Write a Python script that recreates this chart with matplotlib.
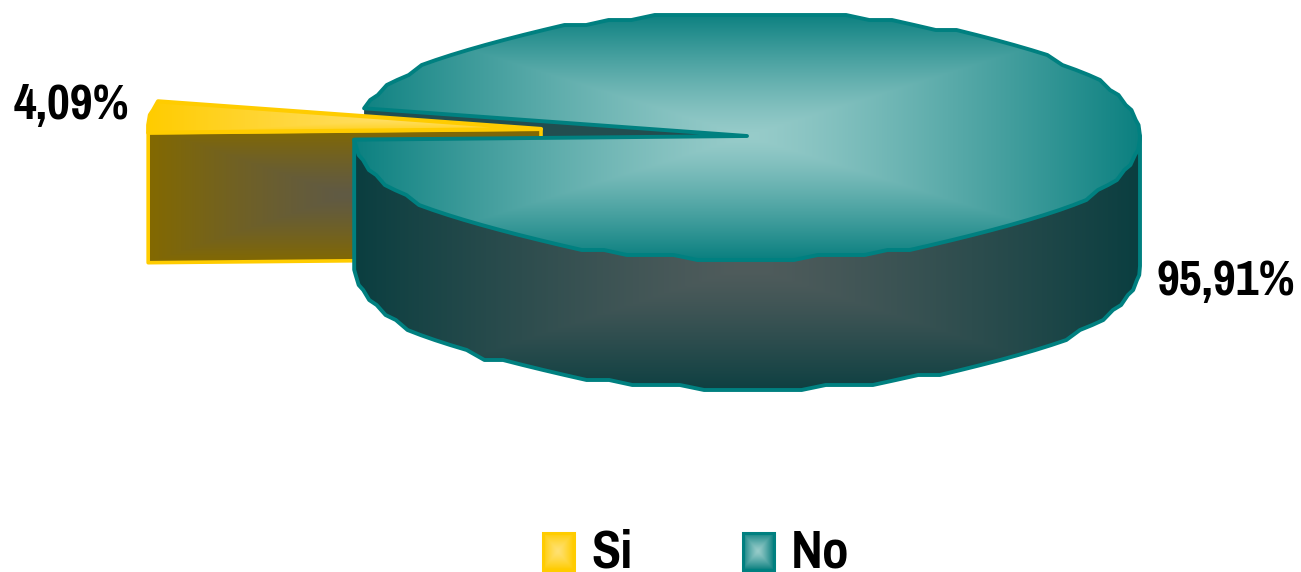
import numpy as np
from matplotlib import pyplot as plt
from matplotlib.patches import Polygon, Rectangle

labels = ["Si", "No"]
shares = [4.09, 95.91]
pct_labels = ["4,09%", "95,91%"]

# look of the 3d pie, in pixels of the 1301x572 picture
cx, cy = 747, 136
rx, ry = 393, 123
depth = 130
si_cx, si_cy = 541, 129
start = 167

no_light, no_dark, no_edge = "#98CCCA", "#0B8080", "#008080"
no_wall_light, no_wall_dark = "#505C5C", "#0A3E40"
si_light, si_dark, si_edge = "#FFE173", "#FFCC00", "#FFCC00"
si_wall_light, si_wall_dark = "#605A44", "#836900"
cut_color = "#224E50"
font = ["Pragati Narrow", "Liberation Sans"]


def to_rgb(c):
    return np.array(plt.matplotlib.colors.to_rgb(c))


def box_fill(ax, patch, box, center, inner, outer, z):
    # rectangular "path" gradient, clipped on the patch
    x0, y0, x1, y1 = box
    xx, yy = np.meshgrid(np.arange(x0, x1 + 1), np.arange(y0, y1 + 1))
    hw = max(center[0] - x0, x1 - center[0])
    hh = max(center[1] - y0, y1 - center[1])
    t = np.clip(np.maximum(np.abs(xx - center[0]) / hw, np.abs(yy - center[1]) / hh), 0, 1) ** 1.25
    img = to_rgb(inner) * (1 - t[..., None]) + to_rgb(outer) * t[..., None]
    im = ax.imshow(img, extent=(x0, x1, y1, y0), origin="upper", aspect="auto",
                   zorder=z, interpolation="bilinear")
    im.set_clip_path(patch)
    patch.set_facecolor("none")
    patch.set_zorder(z + 0.5)


def rim(theta, x0, y0):
    a = np.radians(theta)
    return x0 + rx * np.cos(a), y0 - ry * np.sin(a)


def coarse_rim(theta1, theta2, x0, y0, every=3.5, step=5):
    # the outline of the original is coarse, a rim with rounded vertices
    n = max(int(abs(theta2 - theta1) / every), 1) + 1
    x, y = rim(np.linspace(theta1, theta2, n), x0, y0)
    q = np.round(y / step) * step
    q[0], q[-1] = y[0], y[-1]
    return list(zip(x, q))


fig = plt.figure(figsize=(13.01, 5.72), dpi=100)
ax = fig.add_axes([0, 0, 1, 1])

# pie only gives the angles of the slices here
wedges, _ = ax.pie(shares, startangle=start, radius=1)
si_w, no_w = wedges
si_a, si_b = si_w.theta1, si_w.theta2
no_a, no_b = no_w.theta1, no_w.theta2
si_w.remove()
no_w.remove()

# the cut of the big slice, seen through the gap
rx0, ry0 = rim(si_a, cx, cy)
ax.add_patch(Polygon([(cx, cy), (rx0, ry0), (rx0, ry0 + depth), (cx, cy + depth)],
                     closed=True, facecolor=cut_color, edgecolor="none", zorder=1))

# small slice: cut face, then top
lx0, ly0 = rim(si_b, si_cx, si_cy)
si_wall = Polygon([(lx0, ly0), (si_cx, si_cy), (si_cx, si_cy + depth), (lx0, ly0 + depth)],
                  closed=True, edgecolor=si_edge, linewidth=2.6, joinstyle="round")
ax.add_patch(si_wall)
box_fill(ax, si_wall, (int(lx0), si_cy, si_cx, si_cy + depth + 4), (345, 195),
         si_wall_light, si_wall_dark, 2)

si_top = Polygon([(si_cx, si_cy)] + coarse_rim(si_a, si_b, si_cx, si_cy), closed=True,
                 edgecolor=si_edge, linewidth=3, joinstyle="round")
ax.add_patch(si_top)
box_fill(ax, si_top, (int(lx0), si_cy - 32, si_cx + 4, si_cy + 6), (si_cx - 90, si_cy - 13),
         si_light, si_dark, 3)

# big slice: outer wall, then top
x_l, y_l = rim(no_a, cx, cy)
wall_pts = [(x_l, y_l), (cx + rx, cy)] + [(p[0], p[1] + depth) for p in coarse_rim(360, no_a, cx, cy)]
no_wall = Polygon(wall_pts, closed=True, edgecolor=no_edge, linewidth=2.8, joinstyle="round")
ax.add_patch(no_wall)
box_fill(ax, no_wall, (cx - rx, cy, cx + rx, cy + ry + depth + 2), (cx, cy + 130),
         no_wall_light, no_wall_dark, 4)

no_top = Polygon([(cx, cy)] + coarse_rim(no_a, no_b, cx, cy), closed=True,
                 edgecolor=no_edge, linewidth=2.8, joinstyle="round")
ax.add_patch(no_top)
box_fill(ax, no_top, (cx - rx, cy - ry, cx + rx, cy + ry), (cx, cy),
         no_light, no_dark, 5)

# value labels
ax.text(14, 119, pct_labels[0], fontsize=39, fontweight="bold", family=font,
        va="baseline", ha="left", zorder=8)
ax.text(1157, 295, pct_labels[1], fontsize=39, fontweight="bold", family=font,
        va="baseline", ha="left", zorder=8)

# legend
for name, x0, tx0, light, dark, edge in [
    (labels[0], 543, 591, si_light, si_dark, si_edge),
    (labels[1], 743, 791, no_light, no_dark, no_edge),
]:
    box = Rectangle((x0, 533), 31, 37, edgecolor=edge, linewidth=2.2)
    ax.add_patch(box)
    box_fill(ax, box, (x0, 533, x0 + 31, 570), (x0 + 15, 551), light, dark, 6)
    ax.text(tx0, 568, name, fontsize=42, fontweight="bold", family=font,
            va="baseline", ha="left", zorder=8)

ax.set_aspect("auto")
ax.set_xlim(0, 1301)
ax.set_ylim(572, 0)
ax.axis("off")
fig.savefig("out.png", dpi=100, facecolor="white")
